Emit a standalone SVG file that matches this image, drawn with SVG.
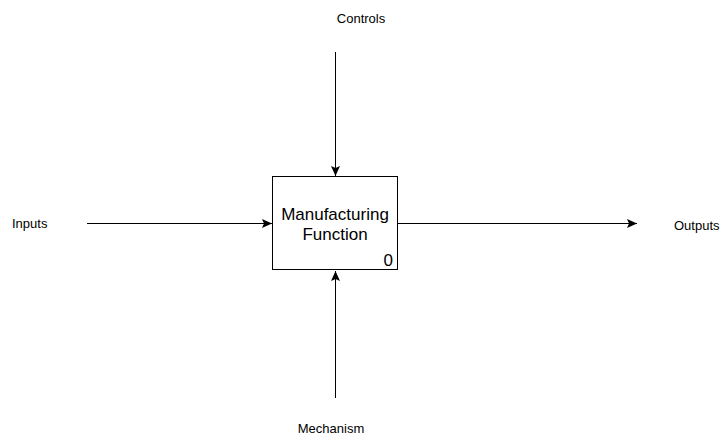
<svg xmlns="http://www.w3.org/2000/svg" width="723" height="437" viewBox="0 0 723 437">
  <style>
    .lbl { font-family: "Liberation Sans", Arial, sans-serif; font-size: 13px; fill: #000; }
    .box { fill: #fff; stroke: #000; stroke-width: 1; }
    .boxtxt { font-family: "Liberation Sans", Arial, sans-serif; font-size: 17px; fill: #000; }
    .conn { stroke: #000; stroke-width: 1; fill: none; }
  </style>
  <defs>
    <marker id="arrow" markerWidth="10" markerHeight="10" refX="10" refY="5" orient="auto" markerUnits="userSpaceOnUse">
      <path d="M0,0.5 L10,5 L0,9.5 L2,5 Z" fill="#000"/>
    </marker>
  </defs>
  <rect width="723" height="437" fill="#fff"/>

  <g id="connectors">
    <line class="conn" x1="335.5" y1="52" x2="335.5" y2="176" marker-end="url(#arrow)"/>
    <line class="conn" x1="87" y1="223.5" x2="272" y2="223.5" marker-end="url(#arrow)"/>
    <line class="conn" x1="398" y1="223.5" x2="637" y2="223.5" marker-end="url(#arrow)"/>
    <line class="conn" x1="335.5" y1="398" x2="335.5" y2="271" marker-end="url(#arrow)"/>
  </g>

  <g id="function-0">
    <rect class="box" x="272.5" y="176.5" width="125" height="93"/>
    <text class="boxtxt" x="335" y="220" text-anchor="middle">Manufacturing</text>
    <text class="boxtxt" x="335" y="240" text-anchor="middle">Function</text>
    <text class="boxtxt" x="393" y="266" text-anchor="end">0</text>
  </g>

  <g id="label-controls">
    <text class="lbl" x="361" y="23" text-anchor="middle">Controls</text>
  </g>
  <g id="label-inputs">
    <text class="lbl" x="12" y="228">Inputs</text>
  </g>
  <g id="label-outputs">
    <text class="lbl" x="674" y="230">Outputs</text>
  </g>
  <g id="label-mechanism">
    <text class="lbl" x="331" y="433" text-anchor="middle">Mechanism</text>
  </g>
</svg>
